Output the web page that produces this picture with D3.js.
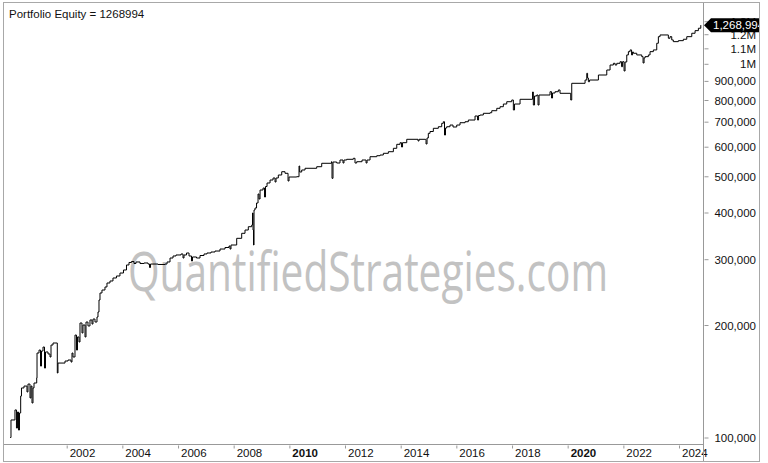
<!DOCTYPE html>
<html>
<head>
<meta charset="utf-8">
<script src="https://cdn.jsdelivr.net/npm/d3@7"></script>
<style>
  html, body { margin: 0; padding: 0; background: #fff; }
  svg { display: block; }
  text { font-family: "Liberation Sans", Arial, sans-serif; }
</style>
</head>
<body>
<script>
// ---------- DATA ----------
const title = "Portfolio Equity = 1268994";
const watermark = "QuantifiedStrategies.com";
const lastValueLabel = "1,268,994";

// dates as decimal years
const years = [
  1999.97,2000.00,2000.142,2000.196,2000.232,2000.268,2000.304,2000.347,2000.376,2000.466,
  2000.573,2000.609,2000.681,2000.717,2000.753,2000.789,2000.825,2000.922,2000.933,2001.005,
  2001.059,2001.095,2001.148,2001.202,2001.238,2001.328,2001.400,2001.436,2001.508,2001.662,
  2001.687,2001.939,2002.047,2002.155,2002.190,2002.226,2002.298,2002.352,2002.388,2002.442,
  2002.478,2002.550,2002.586,2002.658,2002.694,2002.765,2002.837,2002.909,2002.945,2003.017,
  2003.089,2003.125,2003.161,2003.197,2003.268,2003.376,2003.448,2003.556,2003.664,2003.789,
  2003.915,2004.041,2004.149,2004.239,2004.328,2004.418,2004.490,2004.634,2004.778,2004.921,
  2004.975,2005.011,2005.281,2005.532,2005.604,2005.712,2005.820,2005.927,2006.107,2006.179,
  2006.215,2006.305,2006.395,2006.484,2006.520,2006.664,2006.790,2006.934,2007.041,2007.185,
  2007.329,2007.509,2007.688,2007.832,2007.868,2007.904,2008.109,2008.288,2008.407,2008.525,
  2008.648,2008.676,2008.694,2008.712,2008.730,2008.766,2008.820,2008.874,2008.910,2008.946,
  2009.054,2009.107,2009.143,2009.197,2009.305,2009.413,2009.485,2009.521,2009.603,2009.725,
  2009.844,2009.952,2009.988,2010.264,2010.347,2010.372,2010.444,2010.563,2010.983,2011.163,
  2011.515,2011.533,2011.569,2011.702,2011.820,2011.928,2011.964,2012.061,2012.298,2012.359,
  2012.420,2012.611,2012.755,2012.791,2012.898,2013.139,2013.258,2013.376,2013.556,2013.736,
  2013.858,2013.976,2014.030,2014.066,2014.217,2014.623,2014.659,2014.893,2014.911,2014.947,
  2014.993,2015.054,2015.173,2015.353,2015.475,2015.532,2015.575,2015.611,2015.654,2015.773,
  2015.881,2016.014,2016.132,2016.312,2016.430,2016.671,2016.761,2016.797,2016.851,2016.969,
  2017.210,2017.271,2017.451,2017.569,2017.688,2017.810,2017.990,2018.047,2018.090,2018.288,
  2018.737,2018.766,2018.809,2018.888,2018.935,2018.971,2019.366,2019.420,2019.456,2019.546,
  2019.664,2019.725,2020.110,2020.146,2020.624,2020.685,2020.714,2020.742,2020.785,2021.102,
  2021.403,2021.522,2021.641,2021.702,2021.763,2021.881,2021.935,2021.971,2022.025,2022.061,
  2022.122,2022.180,2022.241,2022.295,2022.330,2022.359,2022.481,2022.661,2022.708,2022.744,
  2022.780,2022.898,2022.959,2023.078,2023.200,2023.258,2023.319,2023.617,2023.678,2023.739,
  2023.796,2023.976,2024.156,2024.278,2024.458,2024.576,2024.695,2024.781
];

const equity = [
  100000,111400,118500,106000,117000,104700,116300,129100,135700,137300,
  132400,139000,127600,137300,123700,135700,139900,144300,168300,171400,
  155300,170400,174600,153400,169400,167300,164200,176800,179000,148800,
  158200,160200,161200,159200,168300,164200,188000,171400,185800,180100,
  202500,190400,200000,185800,203700,198800,206300,201200,207500,203700,
  210100,216700,233300,243600,248100,252800,259100,262300,267200,270500,
  275500,280700,289500,294000,295800,292200,294900,292200,293100,291200,
  285000,291200,290400,291200,294900,302200,306000,307900,309800,302200,
  307900,311700,306000,296700,304100,302200,306900,309800,311700,313600,
  315500,319400,322400,325400,319400,327400,341200,351900,359100,366500,
  370400,398800,359100,327400,406200,411200,424100,448300,434700,459500,
  465200,440100,469500,479800,488700,494800,482700,494800,504000,514300,
  509300,485700,497800,498700,532700,513400,519800,525300,530400,541700,
  547000,493800,546000,542600,552800,542600,552800,555200,558600,542600,
  547000,552800,542600,552800,564100,567600,570100,576100,581800,594100,
  608900,615000,598900,615000,628000,621500,628000,627200,610100,633000,
  651600,658900,672000,678600,692900,699800,644800,673200,678600,685700,
  677400,685700,695500,699800,707200,724900,707200,727100,729400,737100,
  739800,749000,760100,767700,780500,791700,800000,752300,780500,803500,
  840500,775800,820000,825100,775800,825100,842000,809900,835300,842000,
  850900,833800,800000,886800,904900,943100,916200,895500,904900,933300,
  962500,992600,1003100,992600,1003100,1013000,982300,1013000,956600,1011100,
  1056100,1077700,1089100,1056100,1075700,1067100,1056100,1045000,1005000,1036700,
  1045000,1056100,1077700,1089100,1134900,1182000,1194500,1170400,1182000,1158300,
  1146200,1153200,1163200,1182000,1207100,1226600,1244900,1268994
];

const xTickYears = [2002,2004,2006,2008,2010,2012,2014,2016,2018,2020,2022,2024];
const xTickLabels = ["2002","2004","2006","2008","2010","2012","2014","2016","2018","2020","2022","2024"];
const xBoldLabels = ["2010","2020"];

const yTickValues = [100000,200000,300000,400000,500000,600000,700000,800000,900000,1000000,1100000,1200000,1300000];
const yTickLabels = ["100,000","200,000","300,000","400,000","500,000","600,000","700,000","800,000","900,000","1M","1.1M","1.2M","1.3M"];

// ---------- RENDER ----------
function toDate(y) {
  const yi = Math.floor(y);
  const a = Date.UTC(yi, 0, 1), b = Date.UTC(yi + 1, 0, 1);
  return new Date(a + (y - yi) * (b - a));
}

const W = 768, H = 463;
const plotL = 3.5, plotT = 2.5, plotR = 703.5, plotB = 444.5, outerR = 759.5, outerB = 461.5;

const svg = d3.select("body").append("svg").attr("width", W).attr("height", H);
svg.append("rect").attr("width", W).attr("height", H).attr("fill", "#fff");

const x = d3.scaleUtc()
  .domain([toDate(2002), toDate(2024)])
  .range([66.7, 679]);
const y = d3.scaleLog()
  .domain([100000, 1000000])
  .range([437.5, 63.8]);

const defs = svg.append("defs");
defs.append("clipPath").attr("id", "plotClip").append("rect")
  .attr("x", plotL + 0.5).attr("y", plotT + 0.5)
  .attr("width", plotR - plotL - 1).attr("height", plotB - plotT - 1);
defs.append("clipPath").attr("id", "axisClip").append("rect")
  .attr("x", plotR).attr("y", plotT + 0.5)
  .attr("width", outerR - plotR - 0.5).attr("height", outerB - plotT - 1);

// watermark: sized so its natural width is ~480px, stretched vertically
const wm = svg.append("text")
  .attr("transform", "translate(128,291) scale(1,1.2)")
  .style("font-family", "'Open Sans', 'Noto Sans', sans-serif")
  .attr("font-size", 45)
  .attr("fill", "#c2c2c2")
  .text(watermark);
const natW = wm.node().getComputedTextLength();
if (natW > 0) {
  wm.attr("transform", `translate(128,291) scale(${480 / natW},1.2)`);
}

// title
svg.append("text")
  .attr("x", 9).attr("y", 18)
  .attr("font-size", 11.5)
  .attr("fill", "#111")
  .text(title);

// equity line
const pts = years.map((d, i) => ({ date: toDate(d), value: equity[i] }));
const line = d3.line()
  .x(d => x(d.date))
  .y(d => y(d.value))
  .curve(d3.curveStepAfter);
svg.append("path")
  .datum(pts)
  .attr("clip-path", "url(#plotClip)")
  .attr("fill", "none")
  .attr("stroke", "#000")
  .attr("stroke-width", 1)
  .attr("d", line);

// x axis
const xAxis = d3.axisBottom(x)
  .tickValues(xTickYears.map(toDate))
  .tickFormat((d, i) => xTickLabels[i])
  .tickSize(4)
  .tickPadding(0);
const gx = svg.append("g").attr("transform", `translate(0,${plotB})`).call(xAxis);
gx.select(".domain").remove();
gx.selectAll(".tick line").attr("stroke", "#999").attr("y1", 1);
gx.selectAll(".tick text")
  .attr("text-anchor", "start")
  .attr("x", 2.5)
  .attr("y", 12)
  .attr("dy", 0)
  .attr("fill", "#111")
  .attr("font-size", 11.5)
  .style("font-family", "'Liberation Sans', Arial, sans-serif")
  .attr("font-weight", (d, i) => xBoldLabels.includes(xTickLabels[i]) ? "bold" : "normal");

// y axis (right)
const yAxis = d3.axisRight(y)
  .tickValues(yTickValues)
  .tickFormat((d, i) => yTickLabels[i])
  .tickSize(4);
const gy = svg.append("g").attr("transform", `translate(${plotR},0)`).call(yAxis);
gy.select(".domain").remove();
gy.selectAll(".tick line").attr("stroke", "#999").attr("x1", 1).attr("x2", 5);
gy.selectAll(".tick text")
  .attr("text-anchor", "end")
  .attr("x", 52.5)
  .attr("dy", "0.35em")
  .attr("fill", "#111")
  .attr("font-size", 11.5)
  .style("font-family", "'Liberation Sans', Arial, sans-serif");

// frame lines
svg.append("line").attr("x1", plotL).attr("x2", plotR).attr("y1", plotB).attr("y2", plotB).attr("stroke", "#999");
svg.append("line").attr("x1", plotR).attr("x2", plotR).attr("y1", plotT).attr("y2", outerB).attr("stroke", "#999");
svg.append("rect").attr("x", plotL).attr("y", plotT)
  .attr("width", outerR - plotL).attr("height", outerB - plotT)
  .attr("fill", "none").attr("stroke", "#a8a8a8");

// last value badge
const lastY = y(equity[equity.length - 1]);
const badge = svg.append("g").attr("clip-path", "url(#axisClip)");
badge.append("path")
  .attr("d", `M${plotR + 0.5},${lastY} L${plotR + 7.5},${lastY - 7} L${outerR + 5},${lastY - 7} L${outerR + 5},${lastY + 7} L${plotR + 7.5},${lastY + 7} Z`)
  .attr("fill", "#000");
badge.append("text")
  .attr("x", plotR + 9.5).attr("y", lastY)
  .attr("dy", "0.36em")
  .attr("fill", "#fff")
  .attr("font-size", 11.5)
  .text(lastValueLabel);
</script>
</body>
</html>
